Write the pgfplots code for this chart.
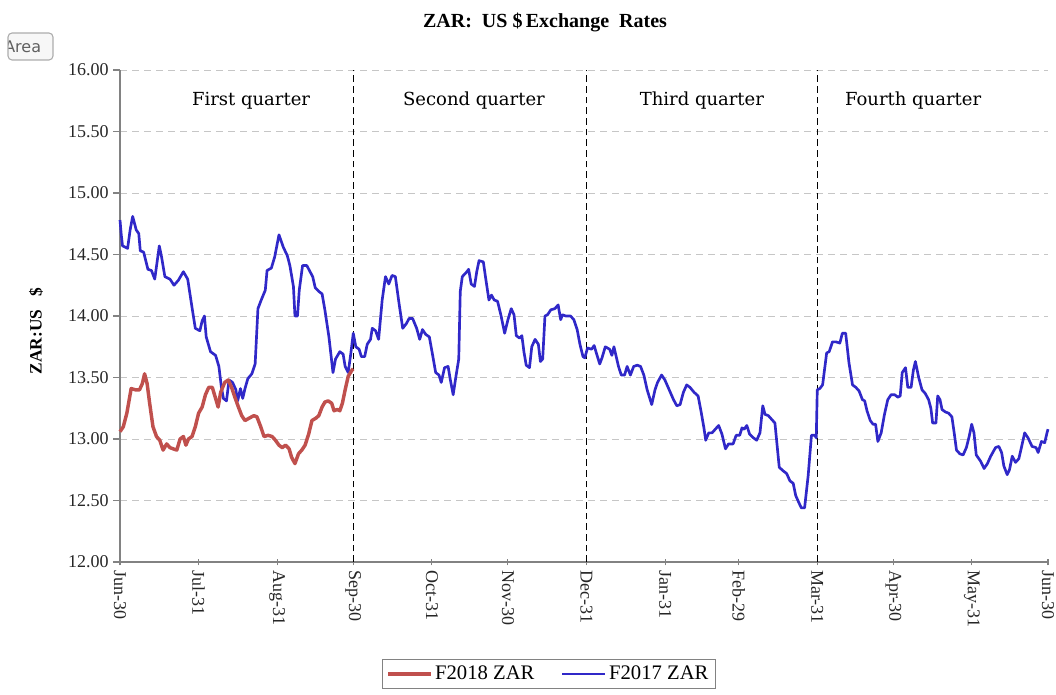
\documentclass[border=0pt]{standalone}
\usepackage{pgfplots}
\pgfplotsset{compat=1.18}
\usepackage{fontspec}
\setmainfont{Liberation Serif}
\newfontfamily\qfont{DejaVu Serif}
\newfontfamily\uifont{DejaVu Sans}
\definecolor{zred}{RGB}{192,80,77}
\definecolor{zblue}{RGB}{48,40,200}
\definecolor{axgray}{RGB}{130,130,130}
\begin{document}
\begin{tikzpicture}[x=0.75pt,y=0.75pt]
\useasboundingbox (0,0) rectangle (1056,694);
% UI artifact button
\begin{scope}
\clip[rounded corners=3pt] (8,634) rectangle (53,661);
\fill[gray!6] (8,634) rectangle (53,661);
\node[anchor=west, text=gray!75!black, font=\uifont\fontsize{12pt}{14pt}\selectfont, inner sep=0pt] at (4,647) {Area};
\end{scope}
\draw[gray!65, line width=0.8pt, rounded corners=3pt] (8,634) rectangle (53,661);
\begin{axis}[
  at={(90pt,99pt)}, anchor=south west,
  scale only axis, width=696pt, height=369pt,
  xmin=0, xmax=366, ymin=12, ymax=16,
  axis x line*=bottom, axis y line*=left,
  axis line style={axgray, line width=0.8pt, -},
  xtick={0,31,62,92,123,153,184,215,244,275,305,336,366},
  xticklabels={Jun-30,Jul-31,Aug-31,Sep-30,Oct-31,Nov-30,Dec-31,Jan-31,Feb-29,Mar-31,Apr-30,May-31,Jun-30},
  ytick={12,12.5,...,16},
  yticklabel style={/pgf/number format/.cd, fixed, fixed zerofill, precision=2, assume math mode=true},
  yticklabel={\pgfmathprintnumber{\tick}},
  tick label style={font=\fontsize{13.5pt}{15pt}\selectfont, text=black!85},
  xticklabel style={rotate=-90, anchor=west},
  major tick length=5pt,
  tick style={axgray, line width=0.8pt},
  xtick align=center, ytick align=outside,
  ymajorgrids, grid style={gray!45, dashed, dash pattern=on 5pt off 4pt, line width=0.6pt},
  legend columns=2,
  reverse legend,
  legend style={at={(axis description cs:0.462,-0.197)}, anchor=north, draw=axgray, line width=0.8pt,
    font=\fontsize{15.5pt}{17pt}\selectfont, inner sep=3pt,
    /tikz/every even column/.append style={column sep=18pt}},
  legend image code/.code={\draw[#1] (0pt,0pt) -- (32pt,0pt);},
  clip=false,
]
% quarter separators
\addplot[black, dashed, dash pattern=on 5pt off 3pt, line width=0.9pt, forget plot] coordinates {(92,12) (92,16)};
\addplot[black, dashed, dash pattern=on 5pt off 3pt, line width=0.9pt, forget plot] coordinates {(184,12) (184,16)};
\addplot[black, dashed, dash pattern=on 5pt off 3pt, line width=0.9pt, forget plot] coordinates {(275,12) (275,16)};
% F2017
\addplot[zblue, line width=2pt, line join=round] coordinates {
(0,14.78) (0.5,14.66) (1,14.57) (3,14.55) (4,14.70) (5,14.81) (6.4,14.70) (7.4,14.67) (8,14.53) (9.3,14.52)
(11,14.38) (12.4,14.37) (13.7,14.30) (15.5,14.57) (16.4,14.48) (17.7,14.32) (19.7,14.30) (21.3,14.25) (23,14.29) (25,14.36)
(26.7,14.30) (28.4,14.07) (29.7,13.90) (31.5,13.88) (32.4,13.96) (33.3,14.00) (34,13.83) (35.7,13.71) (37.7,13.68) (39,13.59)
(40,13.42) (40.8,13.33) (42,13.31) (43,13.48) (44.4,13.46) (45.7,13.40) (46.4,13.31) (47.5,13.41) (48.4,13.33) (49.3,13.41)
(50.4,13.49) (52,13.53) (53.3,13.61) (54.4,14.06) (55.7,14.13) (57.3,14.21) (58,14.37) (59.7,14.39) (61,14.48) (62.7,14.66)
(64.4,14.56) (66,14.49) (67,14.41) (68.4,14.24) (69,14.00) (70,14.00) (70.7,14.21) (72,14.41) (73.7,14.41) (74.7,14.37)
(76,14.32) (77,14.23) (78.4,14.20) (79.7,14.18) (80.8,14.05) (82.4,13.83) (84,13.54) (85,13.65) (86.7,13.71) (88,13.69)
(88.8,13.59) (90,13.54) (91,13.69) (92,13.86) (93,13.75) (94.3,13.73) (95.2,13.67) (96.5,13.67) (97.5,13.77) (98.8,13.81)
(99.5,13.90) (100.8,13.88) (102,13.81) (103.4,14.13) (104.7,14.32) (106,14.26) (107.3,14.33) (108.6,14.32) (110,14.11) (111.5,13.90)
(113,13.94) (114,13.98) (115.4,13.98) (117,13.90) (118.2,13.81) (119.3,13.89) (120.6,13.85) (122,13.83) (123.4,13.67) (124.5,13.54)
(125.8,13.52) (126.7,13.46) (128,13.58) (129.4,13.59) (130.3,13.48) (131.4,13.36) (132.5,13.51) (133.6,13.65) (134.2,14.20) (135,14.32)
(136.8,14.36) (137.5,14.38) (138.5,14.26) (139.8,14.24) (140.7,14.36) (141.6,14.45) (143.3,14.44) (144.2,14.31) (145.5,14.13) (146.5,14.17)
(147.6,14.13) (148.9,14.12) (150.2,14.01) (151.7,13.86) (153,13.97) (154.3,14.06) (155.4,14.01) (156.3,13.84) (157.6,13.82) (158.5,13.84)
(159.3,13.71) (160.2,13.60) (161.5,13.58) (162.4,13.75) (163.7,13.81) (165,13.77) (165.8,13.63) (166.7,13.65) (167.6,14.00) (168.6,14.01)
(169.9,14.05) (171.5,14.06) (172.8,14.09) (173.8,13.97) (174.5,14.01) (175.8,14.00) (177.7,14.00) (179,13.97) (180.3,13.89) (181.4,13.77)
(182.6,13.67) (183.3,13.66) (184.4,13.74) (186,13.73) (187,13.76) (188,13.69) (189.2,13.61) (190.1,13.66) (191.4,13.75) (193.1,13.73)
(194,13.68) (194.8,13.75) (195.7,13.67) (196.6,13.59) (197.7,13.52) (199,13.52) (200,13.59) (201.3,13.52) (202.6,13.59) (204,13.60)
(205.3,13.59) (206.6,13.52) (207.9,13.40) (209.7,13.28) (211,13.40) (212,13.46) (213.6,13.52) (214.9,13.48) (216.6,13.40) (218.3,13.32)
(219.6,13.27) (220.9,13.28) (222.2,13.38) (223.5,13.44) (224.8,13.42) (226.4,13.38) (228,13.35) (229.2,13.22) (230.3,13.09) (231,12.99)
(232.2,13.05) (233.5,13.05) (234.8,13.08) (236.1,13.11) (237.4,13.04) (238.8,12.92) (240,12.96) (241.8,12.96) (243,13.03) (244.4,13.03)
(245.3,13.09) (246.2,13.08) (247.2,13.11) (248.3,13.04) (249.8,13.01) (251.1,12.99) (252.4,13.05) (253.5,13.27) (254.4,13.20) (255.7,13.19)
(257,13.16) (258.3,13.13) (260,12.77) (261.6,12.74) (262.9,12.72) (264.2,12.66) (265.5,12.64) (266.5,12.54) (267.8,12.48) (268.7,12.44)
(270,12.44) (271.4,12.70) (272.7,13.03) (274,13.03) (274.6,13.01) (275,13.40) (276,13.41) (277.1,13.44) (278.7,13.70) (279.7,13.71)
(281,13.79) (282.3,13.79) (283.9,13.78) (284.9,13.86) (286.2,13.86) (287.5,13.62) (288.9,13.44) (290.2,13.42) (291.5,13.39) (292.8,13.32)
(293.7,13.31) (294.6,13.23) (295.9,13.15) (297,13.12) (298,13.12) (298.9,12.98) (300.2,13.05) (301.5,13.20) (302.8,13.32) (304.1,13.36)
(305.5,13.36) (306.8,13.34) (307.7,13.35) (308.5,13.54) (309.8,13.58) (310.7,13.42) (312,13.42) (312.9,13.56) (313.7,13.63) (315,13.50)
(316.3,13.40) (317.6,13.37) (318.9,13.32) (319.8,13.25) (320.5,13.13) (321.8,13.13) (322.5,13.35) (323.4,13.32) (324.2,13.24) (325.5,13.22)
(326.8,13.21) (328.1,13.18) (329,13.05) (329.9,12.91) (331.2,12.88) (332.5,12.87) (333.8,12.93) (334.9,13.02) (335.9,13.12) (336.8,13.05)
(337.7,12.87) (339.4,12.82) (340.8,12.76) (342.1,12.80) (343.4,12.86) (345.3,12.93) (346.6,12.94) (347.7,12.89) (348.6,12.78) (349.9,12.71)
(350.8,12.75) (351.9,12.86) (353.2,12.81) (354.5,12.84) (355.5,12.93) (356.8,13.05) (358.1,13.01) (359.7,12.94) (361.3,12.93) (362.1,12.89)
(363.4,12.98) (364.7,12.97) (365.6,13.05) (366,13.08)
};
\addlegendentry{F2017 ZAR}
% F2018
\addplot[zred, line width=2.6pt, line join=round] coordinates {
(0,13.06) (1.3,13.10) (2.7,13.21) (4.4,13.41) (6.1,13.40) (7.7,13.40) (8.8,13.45) (9.7,13.53) (10.7,13.45) (11.7,13.29)
(13,13.10) (14.4,13.02) (15.7,12.99) (17,12.91) (18.4,12.96) (19.7,12.93) (21,12.92) (22.4,12.91) (23.7,13.00) (25,13.02)
(26,12.95) (27,13.00) (28.4,13.02) (29.7,13.10) (31,13.21) (32.4,13.26) (33.7,13.36) (35,13.42) (36.4,13.42) (37.7,13.33)
(38.7,13.26) (39.7,13.38) (41.3,13.46) (42.7,13.48) (44,13.42) (45.3,13.34) (46.7,13.26) (48,13.19) (49.3,13.15) (51,13.17)
(52.8,13.19) (54,13.18) (55.5,13.10) (56.8,13.02) (58.4,13.03) (60,13.02) (61.3,12.99) (62.7,12.95) (64,12.93) (65.3,12.95)
(66.7,12.92) (67.7,12.85) (69,12.80) (70.4,12.88) (71.7,12.91) (73,12.95) (74.4,13.04) (75.7,13.15) (77.3,13.17) (78.4,13.19)
(79.7,13.26) (80.8,13.30) (82.1,13.31) (83.5,13.29) (84.4,13.23) (85.7,13.24) (86.7,13.23) (87.7,13.29) (88.8,13.40) (90,13.51)
(91.5,13.56) (92,13.57)
};
\addlegendentry{F2018 ZAR}
% quarter labels
\node[font=\qfont\fontsize{13.5pt}{15pt}\selectfont] at (axis cs:51.7,15.75) {First quarter};
\node[font=\qfont\fontsize{13.5pt}{15pt}\selectfont] at (axis cs:139.6,15.75) {Second quarter};
\node[font=\qfont\fontsize{13.5pt}{15pt}\selectfont] at (axis cs:229.5,15.75) {Third quarter};
\node[font=\qfont\fontsize{13.5pt}{15pt}\selectfont] at (axis cs:312.8,15.75) {Fourth quarter};
\end{axis}
% title and y label
\node[font=\bfseries\fontsize{15pt}{17pt}\selectfont] at (545,672) {ZAR:\ \ US \$\,Exchange\ \ Rates};
\node[rotate=90, font=\bfseries\fontsize{13pt}{15pt}\selectfont] at (36,363) {ZAR:US\ \ \ \$};
\end{tikzpicture}
\end{document}
